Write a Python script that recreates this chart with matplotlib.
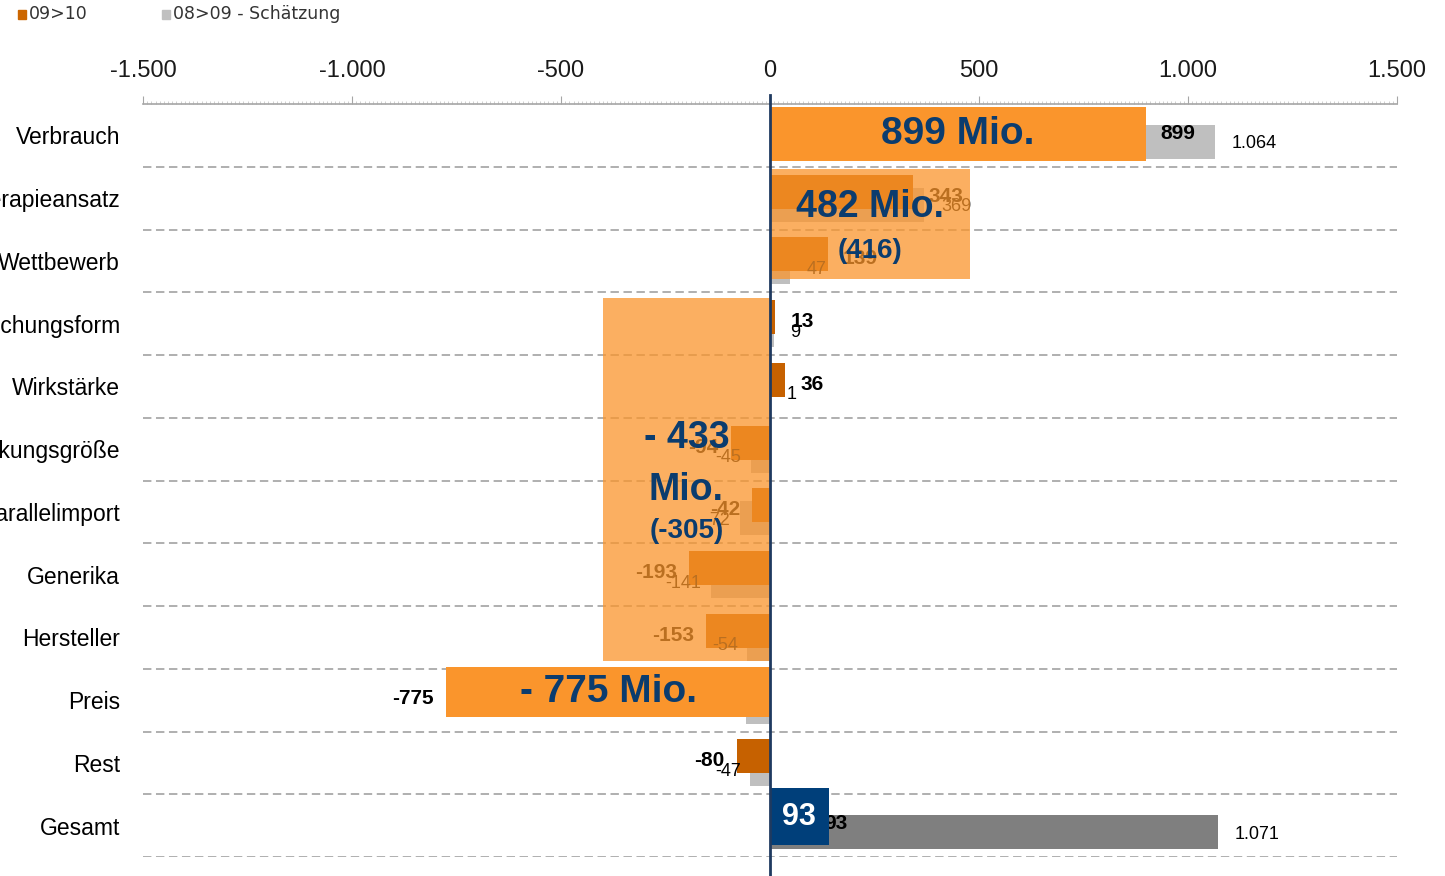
import numpy as np
import matplotlib
matplotlib.use('Agg')
import matplotlib.pyplot as plt
from matplotlib.patches import Rectangle

plt.rcParams['font.family'] = ['Liberation Sans', 'DejaVu Sans']
NARROW = ['Liberation Sans Narrow', 'Liberation Sans', 'DejaVu Sans']

# Daten (Mio.)
kategorien = ['Verbrauch', 'Therapieansatz', 'Wettbewerb', 'Darreichungsform', 'Wirkstärke',
              'Packungsgröße', 'Parallelimport', 'Generika', 'Hersteller', 'Preis', 'Rest', 'Gesamt']
werte_0910 = [899, 343, 139, 13, 36, -94, -42, -193, -153, -775, -80, 93]
werte_0809 = [1064, 369, 47, 9, 1, -45, -72, -141, -54, -57, -47, 1071]
x_ticks = [-1500, -1000, -500, 0, 500, 1000, 1500]

# Hervorhebungen: Zeilen von..bis, Texte
gruppen = [(0, 0), (1, 2), (3, 8), (9, 9)]
gruppen_text = [['899 Mio.'], ['482 Mio.', '(416)'], ['- 433', 'Mio.', '(-305)'], ['- 775 Mio.']]


def fmt(v):
    return f'{v:,}'.replace(',', '.')


fig = plt.figure(figsize=(14.45, 8.76), dpi=100)
ax = fig.add_axes([143/1445, 1-857/876, 1254/1445, 753/876])
ax.set_xlim(-1500, 1500)
ax.set_ylim(11.5, -0.5)

y = np.arange(len(kategorien))
h = 0.54
grau = ['#BFBFBF'] * (len(kategorien) - 1) + ['#7F7F7F']
ax.barh(y + 0.104, werte_0809, height=h, color=grau, zorder=2)
ax.barh(y - 0.104, werte_0910, height=h, color='#C66100', zorder=3)

# Datenbeschriftungen
for i, v in enumerate(werte_0910):
    ax.annotate(fmt(v), (v, i - 0.03), xytext=(10.8 if v > 0 else -8.6, 0),
                textcoords='offset points', ha='left' if v > 0 else 'right', va='center',
                fontsize=15, fontweight='bold', color='black', zorder=4)
for i, v in enumerate(werte_0809):
    ax.annotate(fmt(v), (v, i + 0.135), xytext=(12 if v > 0 else -7, 0),
                textcoords='offset points', ha='left' if v > 0 else 'right', va='center',
                fontsize=13, color='black', zorder=4)

# gestrichelte Trennlinien
for b in np.arange(0.5, len(kategorien), 1):
    ax.axhline(b, color='#9A9A9A', lw=1.1, ls=(0, (5.5, 3)), zorder=1)

# Hervorhebungsflächen
box_x = [899, 478, -400, -775]
box_y = [(-0.45, 0.41), (0.54, 2.29), (2.59, 8.38), (8.47, 9.27)]
box_alpha = [1, 0.75, 0.75, 1]
text_y = [[-0.02], [1.14, 1.84], [4.82, 5.65, 6.30], [8.87]]
text_size = [[28], [27, 20], [27, 27, 20], [28]]
for k in range(len(gruppen)):
    y0, y1 = box_y[k]
    ax.add_patch(Rectangle((0, y0), box_x[k], y1 - y0, color='#FA952C',
                           alpha=box_alpha[k], lw=0, zorder=5))
    for t, ty, fs in zip(gruppen_text[k], text_y[k], text_size[k]):
        ax.text(box_x[k] / 2, ty, t, ha='center', va='center', fontsize=fs,
                fontweight='bold', color='#0B3C6E', family=NARROW, zorder=6)

# Gesamt-Kasten
ax.add_patch(Rectangle((0, 10.40), 141, 0.91, color='#003F7A', lw=0, zorder=6))
ax.text(70, 10.86, fmt(werte_0910[-1]), ha='center', va='center', fontsize=22,
        fontweight='bold', color='white', family=NARROW, zorder=7)

# Nulllinie
ax.plot([0, 0], [-0.03, 1.012], transform=ax.get_xaxis_transform(), color='#1F3A60',
        lw=2, clip_on=False, zorder=8)

# Achsen
for s in ['left', 'right', 'bottom']:
    ax.spines[s].set_visible(False)
ax.spines['top'].set_color('#A6A6A6')
ax.spines['top'].set_linewidth(1.2)
ax.xaxis.tick_top()
ax.set_xticks(x_ticks, [fmt(t) for t in x_ticks])
ax.set_xticks(np.arange(-1500, 1501, 10), minor=True)
ax.tick_params(axis='x', which='major', direction='out', length=6, color='#A6A6A6',
               labelsize=17, pad=10, labelcolor='#1A1A1A')
ax.tick_params(axis='x', which='minor', direction='out', length=2, color='#C8C8C8', width=0.6)
ax.set_yticks(y, kategorien)
ax.tick_params(axis='y', length=0, pad=16.5, labelsize=16.5)

# Legende
fig.add_artist(Rectangle((18/1445, 1-19/876), 8/1445, 9/876, transform=fig.transFigure,
                         color='#CC6600'))
fig.text(29/1445, 1-14/876, '09>10', fontsize=12.5, family='DejaVu Sans', va='center', color='#333333')
fig.add_artist(Rectangle((162/1445, 1-19/876), 8/1445, 9/876, transform=fig.transFigure,
                         color='#C0C0C0'))
fig.text(173/1445, 1-14/876, '08>09 - Schätzung', fontsize=12.5, family='DejaVu Sans',
         va='center', color='#333333')

fig.savefig('out.png', dpi=100)
